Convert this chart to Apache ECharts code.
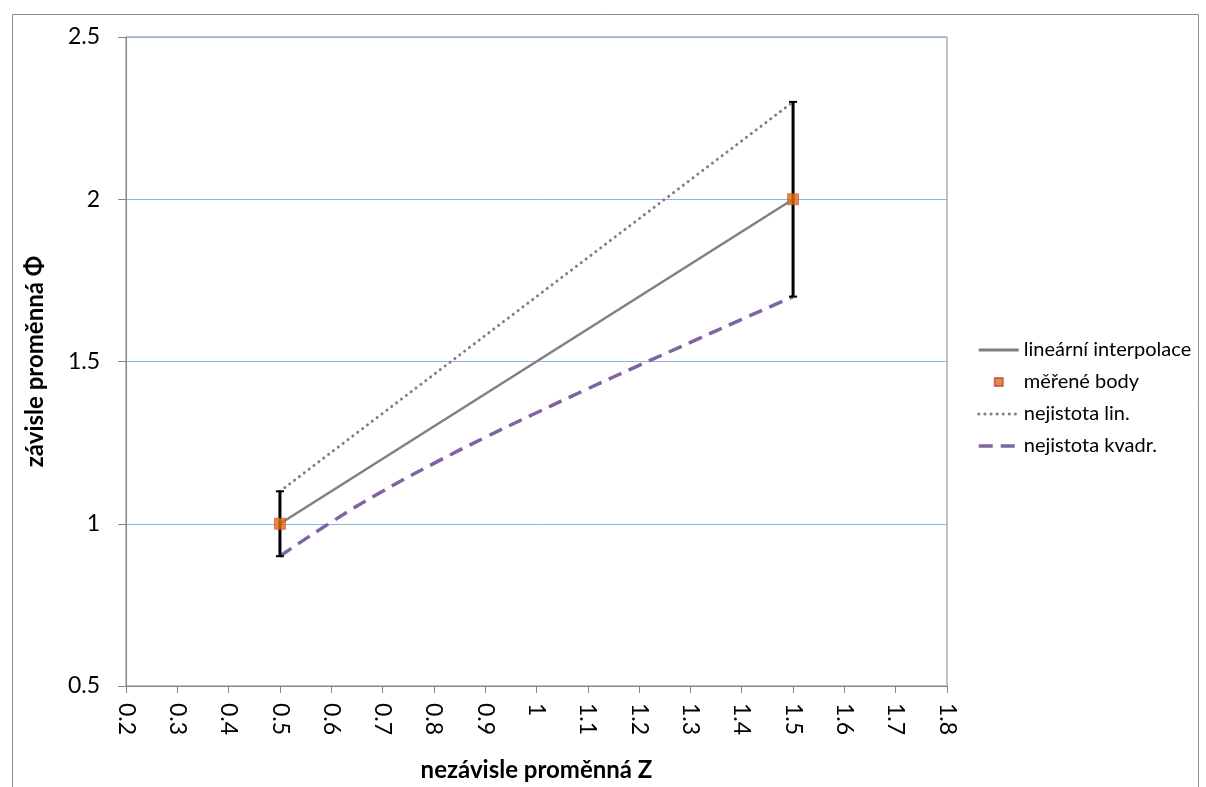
<!DOCTYPE html>
<html><head><meta charset="utf-8">
<script src="https://cdn.jsdelivr.net/npm/echarts@6/dist/echarts.min.js"></script>
<style>html,body{margin:0;padding:0;background:#fff}#c{width:1206px;height:787px}</style>
</head><body><div id="c"></div>
<script>
// data
const xTickMin = 0.2, xTickMax = 1.8, xTickStep = 0.1;
const yTickMin = 0.5, yTickMax = 2.5, yTickStep = 0.5;
const measuredX = [0.5, 1.5];
const measuredY = [1.0, 2.0];
const errLow = [0.9, 1.7];
const errHigh = [1.1, 2.3];
const linInterpX = [0.5, 1.5];
const linInterpY = [1.0, 2.0];
const uncLinX = [0.5, 1.5];
const uncLinY = [1.1, 2.3];
const uncQuadX = [0.5, 0.6, 0.7, 0.8, 0.9, 1.0, 1.1, 1.2, 1.3, 1.4, 1.5];
const uncQuadY = [0.9, 1.005, 1.1, 1.186, 1.266, 1.342, 1.416, 1.488, 1.559, 1.63, 1.7];
const seriesNames = ['lineární interpolace', 'měřené body', 'nejistota lin.', 'nejistota kvadr.'];
const xTitle = 'nezávisle proměnná Z';
const yTitle = 'závisle proměnná Φ';

const zip = (a, b) => a.map((v, i) => [v, b[i]]);
const FONT = 'Lato, "Open Sans", sans-serif';
const SQUARE = 'path://M0 0L10 0L10 10L0 10Z';
const GRIDBLUE = '#8fb3e0';

const chart = echarts.init(document.getElementById('c'));
chart.setOption({
  animation: false,
  backgroundColor: '#fff',
  textStyle: { fontFamily: FONT },
  graphic: [{
    type: 'rect', left: 10, top: 12, z: -10,
    shape: { x: 0.5, y: 0.5, width: 1186, height: 820 },
    style: { fill: 'none', stroke: '#8c8c8c', lineWidth: 1 },
    silent: true
  }],
  grid: { left: 126, top: 37, right: 259, bottom: 100, show: true, borderColor: '#868686', borderWidth: 1, backgroundColor: 'transparent' },
  legend: {
    orient: 'vertical', left: 972, top: 335,
    itemWidth: 40, itemHeight: 8, itemGap: 12, symbolKeepAspect: true,
    textStyle: { fontSize: 20, color: '#000', fontFamily: FONT },
    data: [
      { name: seriesNames[0], itemStyle: { opacity: 0 }, lineStyle: { width: 3 } },
      { name: seriesNames[1], icon: SQUARE },
      { name: seriesNames[2], itemStyle: { opacity: 0 }, lineStyle: { width: 3 } },
      { name: seriesNames[3], itemStyle: { opacity: 0 }, lineStyle: { width: 3.5 } }
    ]
  },
  xAxis: {
    type: 'value', min: xTickMin, max: xTickMax, interval: xTickStep,
    name: xTitle, nameLocation: 'middle', nameGap: 72,
    nameTextStyle: { fontSize: 24, fontWeight: 'bold', color: '#000', fontFamily: FONT },
    axisLine: { lineStyle: { color: '#868686', width: 1 } },
    axisTick: { show: true, length: 7, lineStyle: { color: '#868686' } },
    axisLabel: { rotate: -90, margin: 17, fontSize: 23, color: '#000', fontFamily: FONT },
    splitLine: { show: false }
  },
  yAxis: {
    type: 'value', min: yTickMin, max: yTickMax, interval: yTickStep,
    name: yTitle, nameLocation: 'middle', nameGap: 79, nameRotate: 90,
    nameTextStyle: { fontSize: 24, fontWeight: 'bold', color: '#000', fontFamily: FONT },
    axisLine: { show: true, lineStyle: { color: '#868686', width: 1 } },
    axisTick: { show: true, length: 8, lineStyle: { color: '#868686' } },
    axisLabel: { margin: 26, fontSize: 23, color: '#000', fontFamily: FONT },
    splitLine: { show: true, lineStyle: { color: [GRIDBLUE, GRIDBLUE, GRIDBLUE, GRIDBLUE, GRIDBLUE], width: 1 } }
  },
  series: [
    {
      name: seriesNames[0], type: 'line', data: zip(linInterpX, linInterpY),
      symbol: 'none', color: '#808080', z: 3,
      lineStyle: { color: '#808080', width: 2.5 }
    },
    {
      name: 'errbars', type: 'custom', z: 4,
      data: measuredX.map((x, i) => [x, errLow[i], errHigh[i]]),
      renderItem: function (params, api) {
        const x = api.value(0);
        const lo = api.coord([x, api.value(1)]);
        const hi = api.coord([x, api.value(2)]);
        const cw = 4;
        const st = { stroke: '#000', lineWidth: 3 };
        return {
          type: 'group', children: [
            { type: 'line', shape: { x1: lo[0], y1: lo[1], x2: hi[0], y2: hi[1] }, style: st },
            { type: 'line', shape: { x1: lo[0] - cw, y1: lo[1], x2: lo[0] + cw, y2: lo[1] }, style: { stroke: '#000', lineWidth: 2 } },
            { type: 'line', shape: { x1: hi[0] - cw, y1: hi[1], x2: hi[0] + cw, y2: hi[1] }, style: { stroke: '#000', lineWidth: 2 } }
          ]
        };
      },
      encode: { x: 0, y: [1, 2] }
    },
    {
      name: seriesNames[2], type: 'line', data: zip(uncLinX, uncLinY),
      symbol: 'none', color: '#808080', z: 3,
      lineStyle: { color: '#808080', width: 3, type: [0.1, 6], cap: 'round' }
    },
    {
      name: seriesNames[3], type: 'line', data: zip(uncQuadX, uncQuadY),
      symbol: 'none', color: '#8064a2', z: 3, smooth: true,
      lineStyle: { color: '#8064a2', width: 3.5, type: [14, 8] }
    },
    {
      name: seriesNames[1], type: 'scatter', data: zip(measuredX, measuredY),
      symbol: 'rect', symbolSize: 11, z: 5,
      itemStyle: { color: '#e46c0a', borderColor: '#c0504d', borderWidth: 0.8 }
    }
  ]
});
</script></body></html>
